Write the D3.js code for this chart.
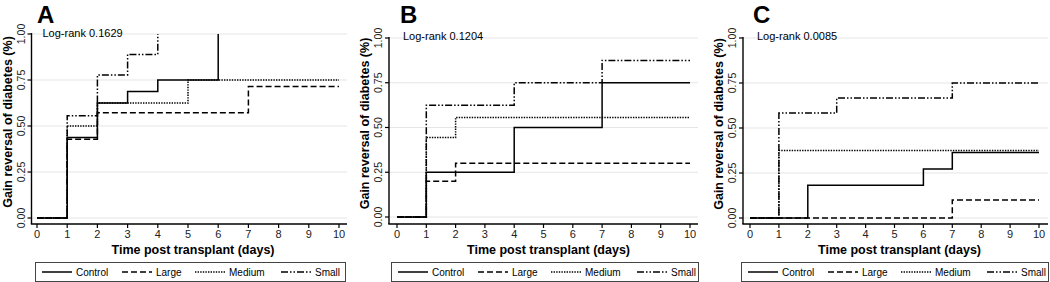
<!DOCTYPE html>
<html>
  <head>
    <meta charset="utf-8">
    <title>Gain reversal of diabetes</title>
    <script src="https://cdn.jsdelivr.net/npm/d3@7/dist/d3.min.js"></script>
    <style>
      body { margin: 0; background: #fff; }
      svg { display: block; font-family: Arial, "Liberation Sans", Helvetica, sans-serif; }
      .grid { stroke: #e6e6e6; stroke-width: 1.2; }
      .axisLine { stroke: #000; stroke-width: 1.4; }
      .tick { stroke: #000; stroke-width: 1.2; }
      .tickLabel { fill: #222; }
      .curve { fill: none; stroke: #000; stroke-width: 1.5; }
    </style>
  </head>

  <body>
    <svg id="chart" width="1050" height="282"></svg>

    <script>
      // data
      groups = ["Control", "Large", "Medium", "Small"];
      dayTicks = [0, 1, 2, 3, 4, 5, 6, 7, 8, 9, 10];
      yTicks = [0, 0.25, 0.5, 0.75, 1];
      letters = ["A", "B", "C"];
      logRank = ["Log-rank 0.1629", "Log-rank 0.1204", "Log-rank 0.0085"];

      // panel A: [day, proportion]
      aControl = [[0, 0], [1, 0.4375], [2, 0.625], [3, 0.6875], [4, 0.75], [6, 1]];
      aLarge = [[0, 0], [1, 0.4286], [2, 0.5714], [7, 0.7143], [10, 0.7143]];
      aMedium = [[0, 0], [1, 0.5], [2, 0.625], [5, 0.75], [10, 0.75]];
      aSmall = [[0, 0], [1, 0.5556], [2, 0.7778], [3, 0.8889], [4, 1]];

      // panel B
      bControl = [[0, 0], [1, 0.25], [4, 0.5], [7, 0.75], [10, 0.75]];
      bLarge = [[0, 0], [1, 0.2], [2, 0.3], [10, 0.3]];
      bMedium = [[0, 0], [1, 0.4444], [2, 0.5556], [10, 0.5556]];
      bSmall = [[0, 0], [1, 0.625], [4, 0.75], [7, 0.875], [10, 0.875]];

      // panel C
      cControl = [[0, 0], [2, 0.1818], [6, 0.2727], [7, 0.3636], [10, 0.3636]];
      cLarge = [[0, 0], [7, 0.1], [10, 0.1]];
      cMedium = [[0, 0], [1, 0.375], [10, 0.375]];
      cSmall = [[0, 0], [1, 0.5833], [3, 0.6667], [7, 0.75], [10, 0.75]];

      series = [
        [aControl, aLarge, aMedium, aSmall],
        [bControl, bLarge, bMedium, bSmall],
        [cControl, cLarge, cMedium, cSmall]
      ];

      // line styles, one per group
      dashes = [null, "6,3", "1.4,1.2", "7,2,1.5,2,1.5,2"];

      // panel frames (plot area and axis positions)
      frames = [
        { x0: 37, x1: 339, y0: 218, y1: 34, axisX: 31.5, right: 347, boxL: 35, boxR: 345 },
        { x0: 397, x1: 690, y0: 217, y1: 38, axisX: 389, right: 698, boxL: 391, boxR: 698 },
        { x0: 750, x1: 1039, y0: 218, y1: 38, axisX: 743, right: 1048, boxL: 741, boxR: 1048 }
      ];

      svg = d3.select("#chart");

      frames.forEach(function(f, p) {
        x = d3.scaleLinear().domain([0, 10]).range([f.x0, f.x1]);
        y = d3.scaleLinear().domain([0, 1]).range([f.y0, f.y1]);
        axisY = 224;

        g = svg.append("g");

        // gridlines
        g.selectAll(".grid")
          .data(yTicks)
        .enter().append("line")
          .classed("grid", true)
          .attr("x1", f.axisX)
          .attr("x2", f.right)
          .attr("y1", function(d) { return y(d); })
          .attr("y2", function(d) { return y(d); });

        // curves
        line = d3.line()
          .x(function(d) { return x(d[0]); })
          .y(function(d) { return y(d[1]); })
          .curve(d3.curveStepAfter);

        g.selectAll(".curve")
          .data(series[p])
        .enter().append("path")
          .classed("curve", true)
          .attr("d", line)
          .attr("stroke-dasharray", function(d, i) { return dashes[i]; });

        // y axis
        g.append("line")
          .classed("axisLine", true)
          .attr("x1", f.axisX).attr("x2", f.axisX)
          .attr("y1", y(1) - 1).attr("y2", axisY);
        g.selectAll(".yTick")
          .data(yTicks)
        .enter().append("line")
          .classed("tick", true)
          .attr("x1", f.axisX - 4).attr("x2", f.axisX)
          .attr("y1", function(d) { return y(d); })
          .attr("y2", function(d) { return y(d); });
        g.selectAll(".yLabel")
          .data(yTicks)
        .enter().append("text")
          .classed("tickLabel", true)
          .attr("transform", function(d) { return "translate(" + (f.axisX - 7) + "," + y(d) + ") rotate(-90)"; })
          .attr("text-anchor", "middle")
          .style("font-size", "10.5px")
          .text(d3.format(".2f"));

        // y title
        g.append("text")
          .attr("transform", "translate(" + (f.axisX - 20) + "," + ((f.y0 + f.y1) / 2 - 4) + ") rotate(-90)")
          .attr("text-anchor", "middle")
          .style("font-size", "12.5px")
          .style("font-weight", "bold")
          .text("Gain reversal of diabetes (%)");

        // x axis
        g.append("line")
          .classed("axisLine", true)
          .attr("x1", f.axisX - 0.7).attr("x2", f.right)
          .attr("y1", axisY).attr("y2", axisY);
        g.selectAll(".xTick")
          .data(dayTicks)
        .enter().append("line")
          .classed("tick", true)
          .attr("x1", function(d) { return x(d); })
          .attr("x2", function(d) { return x(d); })
          .attr("y1", axisY).attr("y2", axisY + 4);
        g.selectAll(".xLabel")
          .data(dayTicks)
        .enter().append("text")
          .classed("tickLabel", true)
          .attr("x", function(d) { return x(d); })
          .attr("y", 238)
          .attr("text-anchor", "middle")
          .style("font-size", "11px")
          .text(function(d) { return d; });

        // x title
        g.append("text")
          .attr("x", (f.x0 + f.x1) / 2 + 5)
          .attr("y", 254)
          .attr("text-anchor", "middle")
          .style("font-size", "12.5px")
          .style("font-weight", "bold")
          .text("Time post transplant (days)");

        // panel letter and log-rank
        g.append("text")
          .attr("x", f.x0 + (p == 0 ? 0 : 3))
          .attr("y", 22.5)
          .style("font-size", "24px")
          .style("font-weight", "bold")
          .text(letters[p]);
        g.append("text")
          .attr("x", f.axisX + (p == 0 ? 11 : 14))
          .attr("y", p == 0 ? 37 : 40)
          .style("font-size", "11px")
          .text(logRank[p]);

        // legend
        g.append("rect")
          .attr("x", f.boxL + 0.5).attr("y", 262.5)
          .attr("width", f.boxR - f.boxL).attr("height", 19)
          .attr("fill", "none")
          .attr("stroke", "#444")
          .attr("stroke-width", 1);

        lineStart = [7, 87, 160, 246];
        keys = g.selectAll(".key")
          .data(groups)
        .enter().append("g")
          .attr("transform", function(d, i) { return "translate(" + (f.boxL + lineStart[i]) + ",0)"; });
        keys.append("line")
          .classed("curve", true)
          .attr("x1", 0).attr("x2", 30)
          .attr("y1", 272).attr("y2", 272)
          .attr("stroke-dasharray", function(d, i) { return dashes[i]; });
        keys.append("text")
          .attr("x", 34)
          .attr("y", 276)
          .style("font-size", "10px")
          .text(function(d) { return d; });
      });
    </script>
  </body>
</html>
